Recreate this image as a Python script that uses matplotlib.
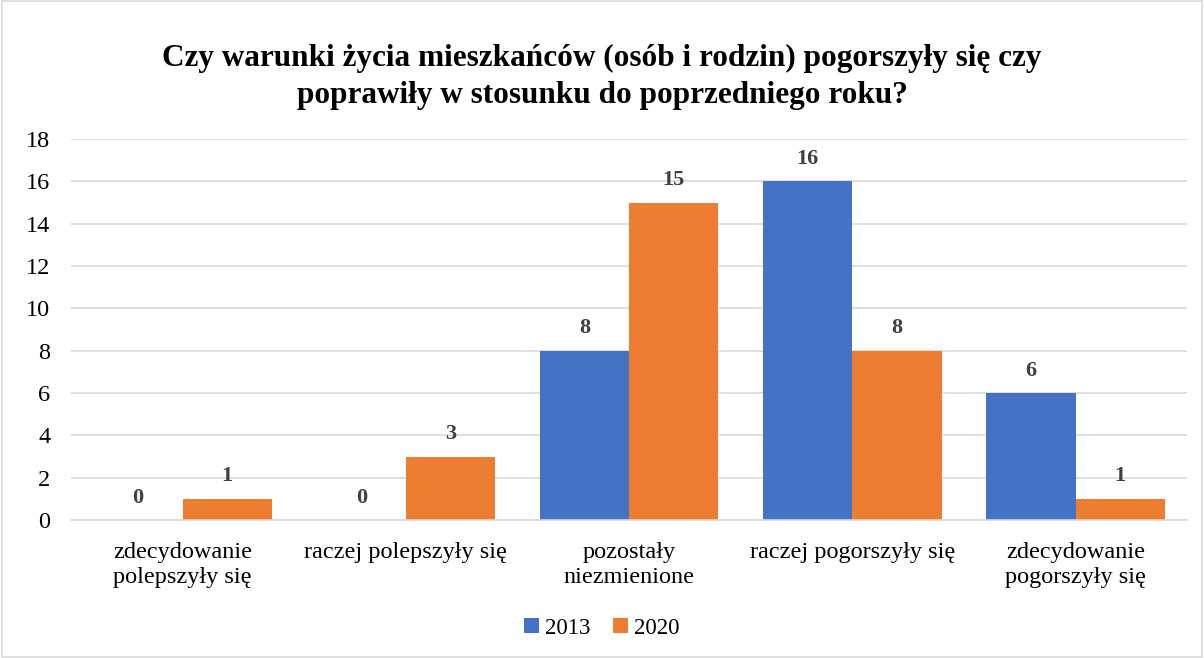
import matplotlib

matplotlib.use("Agg")
import matplotlib.pyplot as plt
import numpy as np
from matplotlib.patches import Rectangle

categories = [
    "zdecydowanie\npolepszyły się",
    "raczej polepszyły się",
    "pozostały\nniezmienione",
    "raczej pogorszyły się",
    "zdecydowanie\npogorszyły się",
]
series_names = ["2013", "2020"]
values_2013 = [0, 0, 8, 16, 6]
values_2020 = [1, 3, 15, 8, 1]
title = "Czy warunki życia mieszkańców (osób i rodzin) pogorszyły się czy\npoprawiły w stosunku do poprzedniego roku?"

colors = ["#4472C4", "#ED7D31"]
plt.rcParams["font.family"] = ["Liberation Serif", "DejaVu Serif"]

fig = plt.figure(figsize=(12.04, 6.58), dpi=100)
ax = fig.add_axes([0.059, 0.2097, 0.927, 0.579])

x = np.arange(len(categories))
width = 0.4
for k, (name, vals) in enumerate(zip(series_names, [values_2013, values_2020])):
    bars = ax.bar(x + (k - 0.5) * width, vals, width, color=colors[k], label=name, zorder=2)
    for b, v in zip(bars, vals):
        ax.annotate(str(v), (b.get_x() + b.get_width() / 2, v), xytext=(0, 9),
                    textcoords="offset points", ha="center", va="bottom",
                    fontsize=16, fontweight="bold", color="#404040")

ax.set_xlim(-0.5, len(categories) - 0.5)
ax.set_ylim(0, 18)
ax.set_yticks(range(0, 19, 2))
ax.set_xticks(x, categories, linespacing=1.25)
ax.tick_params(axis="both", length=0, labelsize=17.5, colors="black")
ax.tick_params(axis="x", pad=16)
ax.tick_params(axis="y", pad=15)
ax.grid(axis="y", color="#D9D9D9", linewidth=1.2, zorder=0)
for s in ["top", "right", "left"]:
    ax.spines[s].set_visible(False)
ax.spines["bottom"].set_color("#D9D9D9")
ax.spines["bottom"].set_linewidth(1.2)

fig.text(0.5, 0.883, title, ha="center", va="center", fontsize=22.5,
         fontweight="bold", linespacing=1.35)
fig.legend(loc="center", bbox_to_anchor=(0.5, 0.045), ncol=2, frameon=False,
           fontsize=16.5, handlelength=0.65, handleheight=0.65, handletextpad=0.25,
           columnspacing=1.0)

fig.patches.append(Rectangle((0.002, 0.002), 0.996, 0.996, transform=fig.transFigure,
                             fill=False, edgecolor="#D9D9D9", linewidth=1.2))

fig.savefig("out.png", dpi=100)
